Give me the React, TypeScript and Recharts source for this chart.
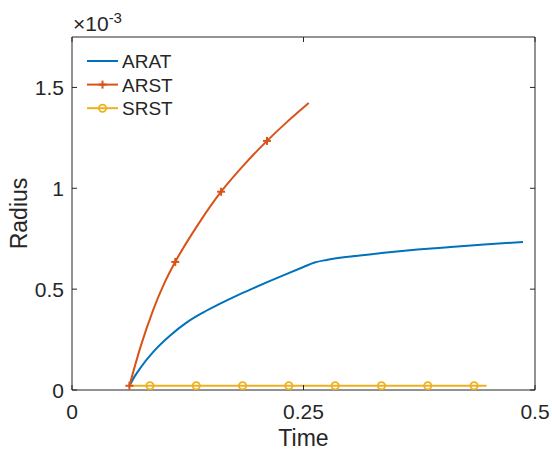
import React from 'react';
import { LineChart, Line, XAxis, YAxis, Legend, Label } from 'recharts';

// time on x, radius in units of 1e-3 on y
const aratTime = [0.062, 0.068, 0.0736, 0.088, 0.106, 0.124, 0.142, 0.16, 0.178, 0.196, 0.214, 0.232, 0.25, 0.262, 0.275, 0.301, 0.337, 0.373, 0.409, 0.445, 0.487];
const aratRadius = [0.021, 0.07, 0.108, 0.19, 0.27, 0.335, 0.385, 0.428, 0.468, 0.505, 0.541, 0.576, 0.61, 0.632, 0.645, 0.662, 0.68, 0.696, 0.709, 0.721, 0.734];

const arstTime = [0.062, 0.0745, 0.087, 0.0995, 0.1115, 0.1375, 0.161, 0.1855, 0.2106, 0.232, 0.2557];
const arstRadius = [0.021, 0.221, 0.389, 0.527, 0.635, 0.83, 0.983, 1.115, 1.235, 1.328, 1.423];
const arstMarkerTime = [0.062, 0.1115, 0.161, 0.2106];

const srstTime = [0.062, 0.0842, 0.1342, 0.1842, 0.2342, 0.2842, 0.3342, 0.3842, 0.4342, 0.4477];
const srstRadius = [0.021, 0.021, 0.021, 0.021, 0.021, 0.021, 0.021, 0.021, 0.021, 0.021];
const srstMarkerTime = [0.0842, 0.1342, 0.1842, 0.2342, 0.2842, 0.3342, 0.3842, 0.4342];

const xTicks = [0, 0.25, 0.5];
const yTicks = [0, 0.5, 1, 1.5];

const seriesNames = ['ARAT', 'ARST', 'SRST'];
const seriesColors = ['#0072BD', '#D95319', '#EDB120'];
const seriesMarkers = ['none', 'plus', 'circle'];

const FONT = '"Liberation Sans", Arial, Helvetica, sans-serif';
const INK = '#262626';

const toRows = (time: number[], radius: number[], marks: number[]) =>
  time.map((t, i) => ({ t, r: radius[i], mark: marks.includes(t) }));

const aratData = toRows(aratTime, aratRadius, []);
const arstData = toRows(arstTime, arstRadius, arstMarkerTime);
const srstData = toRows(srstTime, srstRadius, srstMarkerTime);

const drawMarker = (kind: string, cx: number, cy: number, color: string, key?: string | number) => {
  if (kind === 'plus') {
    return (
      <g key={key}>
        <line x1={cx - 4} y1={cy} x2={cx + 4} y2={cy} stroke={color} strokeWidth={2} />
        <line x1={cx} y1={cy - 4} x2={cx} y2={cy + 4} stroke={color} strokeWidth={2} />
      </g>
    );
  }
  if (kind === 'circle') {
    return <circle key={key} cx={cx} cy={cy} r={3.6} fill="none" stroke={color} strokeWidth={1.8} />;
  }
  return <g key={key} />;
};

const makeDot = (kind: string, color: string) => (props: any) => {
  const { cx, cy, payload, index } = props;
  if (!payload || !payload.mark) return <g key={`d-${index}`} />;
  return drawMarker(kind, cx, cy, color, `d-${index}`);
};

// MATLAB-style ticks pointing into the box
const makeTick = (side: string, showLabel: boolean) => (props: any) => {
  const { x, y, payload } = props;
  const v = String(payload.value);
  if (side === 'bottom') {
    return (
      <g>
        <line x1={x} y1={y} x2={x} y2={y - 5} stroke={INK} />
        {showLabel && (
          <text x={x} y={y + 29} textAnchor="middle" fontSize={21} fill={INK} fontFamily={FONT}>
            {v}
          </text>
        )}
      </g>
    );
  }
  if (side === 'top') {
    return <line x1={x} y1={y} x2={x} y2={y + 5} stroke={INK} />;
  }
  if (side === 'left') {
    return (
      <g>
        <line x1={x} y1={y} x2={x + 5} y2={y} stroke={INK} />
        {showLabel && (
          <text x={x - 8} y={y + 8} textAnchor="end" fontSize={21} fill={INK} fontFamily={FONT}>
            {v}
          </text>
        )}
      </g>
    );
  }
  return <line x1={x} y1={y} x2={x - 5} y2={y} stroke={INK} />;
};

const renderLegend = () => (
  <svg width={130} height={72} style={{ display: 'block' }}>
    {seriesNames.map((name, i) => {
      const cy = 12 + i * 23.6;
      return (
        <g key={name}>
          <line x1={3} y1={cy} x2={34} y2={cy} stroke={seriesColors[i]} strokeWidth={2} />
          {drawMarker(seriesMarkers[i], 18.5, cy, seriesColors[i])}
          <text x={38} y={cy + 7} fontSize={19} fill={INK} fontFamily={FONT}>
            {name}
          </text>
        </g>
      );
    })}
  </svg>
);

const YLabel = (props: any) => {
  const vb = props.viewBox || { x: 0, y: 37, width: 72, height: 353 };
  const cy = vb.y + vb.height / 2;
  const lx = vb.x + 27;
  return (
    <g fontFamily={FONT} fill={INK}>
      <text x={lx} y={cy} fontSize={23} textAnchor="middle" transform={`rotate(-90 ${lx} ${cy})`}>
        Radius
      </text>
      <text x={vb.x + vb.width + 1} y={vb.y - 6} fontSize={21}>
        ×10
        <tspan dy={-8} fontSize={15}>
          -3
        </tspan>
      </text>
    </g>
  );
};

const XLabel = (props: any) => {
  const vb = props.viewBox || { x: 72, y: 390, width: 463, height: 62 };
  return (
    <text x={vb.x + vb.width / 2} y={vb.y + 56} fontSize={23} textAnchor="middle" fill={INK} fontFamily={FONT}>
      Time
    </text>
  );
};

export default function App() {
  return (
    <div style={{ position: 'absolute', left: 0, top: 0, width: 552, height: 452, background: '#fff', fontFamily: FONT }}>
      <LineChart width={552} height={452} margin={{ top: 0, right: 0, bottom: 0, left: 0 }}>
        <XAxis
          xAxisId="bottom"
          type="number"
          dataKey="t"
          orientation="bottom"
          domain={[0, 0.5]}
          ticks={xTicks}
          height={62}
          tickSize={0}
          tickMargin={0}
          tickLine={false}
          axisLine={{ stroke: INK }}
          tick={makeTick('bottom', true)}
          allowDataOverflow
        >
          <Label content={<XLabel />} />
        </XAxis>
        <XAxis
          xAxisId="top"
          type="number"
          dataKey="t"
          orientation="top"
          domain={[0, 0.5]}
          ticks={xTicks}
          height={37}
          tickSize={0}
          tickMargin={0}
          tickLine={false}
          axisLine={{ stroke: INK }}
          tick={makeTick('top', false)}
          allowDataOverflow
        />
        <YAxis
          yAxisId="left"
          type="number"
          orientation="left"
          domain={[0, 1.75]}
          ticks={yTicks}
          width={72}
          tickSize={0}
          tickMargin={0}
          tickLine={false}
          axisLine={{ stroke: INK }}
          tick={makeTick('left', true)}
          allowDataOverflow
        >
          <Label content={<YLabel />} />
        </YAxis>
        <YAxis
          yAxisId="right"
          type="number"
          orientation="right"
          domain={[0, 1.75]}
          ticks={yTicks}
          width={17}
          tickSize={0}
          tickMargin={0}
          tickLine={false}
          axisLine={{ stroke: INK }}
          tick={makeTick('right', false)}
          allowDataOverflow
        />
        <Legend
          layout="vertical"
          align="center"
          verticalAlign="middle"
          content={renderLegend}
          wrapperStyle={{ left: 84, top: 49, width: 130, height: 72 }}
        />
        <Line
          xAxisId="bottom"
          yAxisId="left"
          data={aratData}
          dataKey="r"
          name={seriesNames[0]}
          type="monotone"
          stroke={seriesColors[0]}
          strokeWidth={2}
          dot={false}
          activeDot={false}
          isAnimationActive={false}
        />
        <Line
          xAxisId="bottom"
          yAxisId="left"
          data={arstData}
          dataKey="r"
          name={seriesNames[1]}
          type="monotone"
          stroke={seriesColors[1]}
          strokeWidth={2}
          dot={makeDot('plus', seriesColors[1])}
          activeDot={false}
          isAnimationActive={false}
        />
        <Line
          xAxisId="bottom"
          yAxisId="left"
          data={srstData}
          dataKey="r"
          name={seriesNames[2]}
          type="linear"
          stroke={seriesColors[2]}
          strokeWidth={2}
          dot={makeDot('circle', seriesColors[2])}
          activeDot={false}
          isAnimationActive={false}
        />
      </LineChart>
    </div>
  );
}
